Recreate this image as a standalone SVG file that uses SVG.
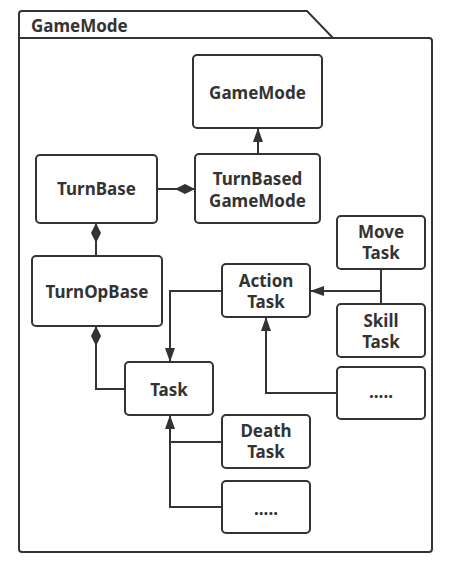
<svg xmlns="http://www.w3.org/2000/svg" width="451" height="565" viewBox="0 0 451 565">
<style>
.box{fill:#fff;stroke:#333;stroke-width:2}
.t{font-family:"Noto Sans","Open Sans",sans-serif;font-weight:bold;font-size:17px;fill:#333;text-anchor:middle}
.c{fill:none;stroke:#333;stroke-width:2}
</style>
<defs>
<marker id="arr" viewBox="0 0 14 10" refX="14" refY="5" markerWidth="14" markerHeight="10" markerUnits="userSpaceOnUse" orient="auto"><path d="M0,0 L14,5 L0,10 Z" fill="#333"/></marker>
<marker id="dia" viewBox="0 0 20 10" refX="0" refY="5" markerWidth="20" markerHeight="10" markerUnits="userSpaceOnUse" orient="auto"><path d="M0,5 L10,0 L20,5 L10,10 Z" fill="#333"/></marker>
</defs>
<rect width="451" height="565" fill="#fff"/>
<g id="package">
<path class="box" d="M19,38 V14 Q19,11 22,11 H307 L333,38 H429 Q432,38 432,41 V549 Q432,552 429,552 H22 Q19,552 19,549 Z"/>
<line class="c" x1="19" y1="38" x2="333" y2="38"/>
<text class="t" x="31" y="32" style="text-anchor:start">GameMode</text>
</g>
<g id="connectors">
<path class="c" d="M258,154 V128" marker-end="url(#arr)"/>
<path class="c" d="M195,189 H157" marker-start="url(#dia)"/>
<path class="c" d="M96,223 V256" marker-start="url(#dia)"/>
<path class="c" d="M96,326 V389 H125" marker-start="url(#dia)"/>
<path class="c" d="M381,269 V304"/>
<path class="c" d="M381,291 H310" marker-end="url(#arr)"/>
<path class="c" d="M337,393 H266 V317" marker-end="url(#arr)"/>
<path class="c" d="M222,291 H170 V362" marker-end="url(#arr)"/>
<path class="c" d="M222,442 H170"/>
<path class="c" d="M222,507 H170 V415" marker-end="url(#arr)"/>
</g>
<g id="gamemode"><rect class="box" x="193" y="55" width="129" height="73" rx="4"/><text class="t" x="257.5" y="99">GameMode</text></g>
<g id="turnbasedgamemode"><rect class="box" x="195" y="154" width="125" height="69" rx="4"/><text class="t" x="257.5" y="185">TurnBased</text><text class="t" x="257.5" y="207">GameMode</text></g>
<g id="turnbase"><rect class="box" x="36" y="155" width="121" height="68" rx="4"/><text class="t" x="96.5" y="195">TurnBase</text></g>
<g id="turnopbase"><rect class="box" x="32" y="256" width="130" height="70" rx="4"/><text class="t" x="97" y="298">TurnOpBase</text></g>
<g id="actiontask"><rect class="box" x="222" y="264" width="88" height="53" rx="4"/><text class="t" x="266" y="287">Action</text><text class="t" x="266" y="308">Task</text></g>
<g id="movetask"><rect class="box" x="337" y="216" width="88" height="53" rx="4"/><text class="t" x="381" y="238">Move</text><text class="t" x="381" y="259">Task</text></g>
<g id="skilltask"><rect class="box" x="337" y="304" width="88" height="53" rx="4"/><text class="t" x="381" y="327">Skill</text><text class="t" x="381" y="348">Task</text></g>
<g id="more1"><rect class="box" x="337" y="367" width="88" height="52" rx="4"/><text class="t" x="381" y="398">.....</text></g>
<g id="task"><rect class="box" x="125" y="362" width="88" height="53" rx="4"/><text class="t" x="169" y="396">Task</text></g>
<g id="deathtask"><rect class="box" x="222" y="415" width="88" height="53" rx="4"/><text class="t" x="266" y="437">Death</text><text class="t" x="266" y="458">Task</text></g>
<g id="more2"><rect class="box" x="222" y="481" width="88" height="52" rx="4"/><text class="t" x="266" y="515">.....</text></g>
</svg>
